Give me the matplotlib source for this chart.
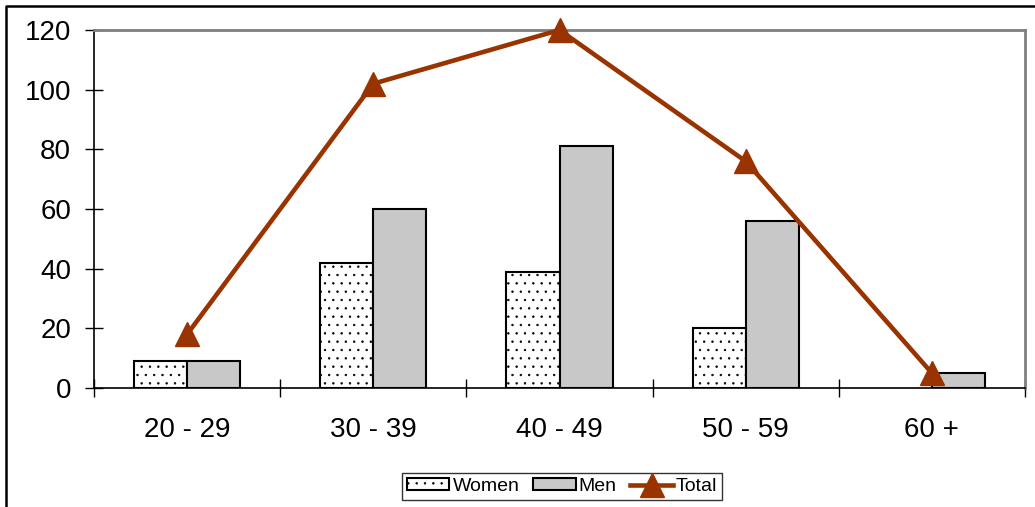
import numpy as np
import matplotlib
matplotlib.use("Agg")
import matplotlib.pyplot as plt
from matplotlib.lines import Line2D

plt.rcParams['font.family'] = ['Liberation Sans', 'DejaVu Sans']
plt.rcParams['hatch.linewidth'] = 0.5
plt.rcParams['hatch.color'] = '#555555'

# data
categories = ["20 - 29", "30 - 39", "40 - 49", "50 - 59", "60 +"]
women = [9, 42, 39, 20, 0]
men = [9, 60, 81, 56, 5]
total = [18, 102, 120, 76, 5]

W, H = 1035, 507
fig = plt.figure(figsize=(W / 100, H / 100), dpi=100)
ax = fig.add_axes([94 / W, 1 - 388 / H, (1025 - 94) / W, (388 - 30) / H])

x = np.arange(len(categories))
bw = 0.285
bw_women = ax.bar(x - bw / 2, women, bw, color="white", edgecolor="black",
                  linewidth=1.5, hatch="..", label="Women")
ax.bar(x + bw / 2, men, bw, color="#c8c8c8", edgecolor="black", linewidth=1.5,
       label="Men")
# empty bars are not drawn
for b, v in zip(bw_women, women):
    if v == 0:
        b.set_visible(False)
ax.plot(x, total, color="#993300", linewidth=3.3, marker="^", markersize=17,
        label="Total", zorder=5, clip_on=False)

ax.set_xlim(-0.5, len(categories) - 0.5)
ax.set_ylim(0, 120)
ax.set_yticks(np.arange(0, 121, 20))
ax.set_xticks(x)
ax.set_xticklabels(categories)
ax.set_xticks(np.arange(-0.5, len(categories)), minor=True)
ax.tick_params(axis="x", which="major", length=0, pad=21, labelsize=20)
ax.tick_params(axis="x", which="minor", direction="inout", length=13, width=1)
ax.tick_params(axis="y", direction="inout", length=13, width=1, labelsize=20, pad=10)

for s in ["left", "bottom"]:
    ax.spines[s].set_color("black")
    ax.spines[s].set_linewidth(1.2)
for s in ["top", "right"]:
    ax.spines[s].set_color("#808080")
    ax.spines[s].set_linewidth(2)

handles, labels = ax.get_legend_handles_labels()
order = [labels.index(n) for n in ["Women", "Men", "Total"]]
leg = fig.legend([handles[i] for i in order], [labels[i] for i in order],
                 loc="center", bbox_to_anchor=(562 / W, 1 - 486.5 / H), ncol=3,
                 fontsize=14, frameon=True, fancybox=False, edgecolor="black",
                 handlelength=2.2, handleheight=0.6, handletextpad=0.15,
                 columnspacing=0.7, borderpad=0.25)
leg.get_frame().set_linewidth(1.0)

# outer chart frame
fig.add_artist(Line2D([6 / W, 6 / W, 1], [0, 1 - 6 / H, 1 - 6 / H],
                      transform=fig.transFigure, color="black", linewidth=1.8))

fig.savefig("out.png", dpi=100)
